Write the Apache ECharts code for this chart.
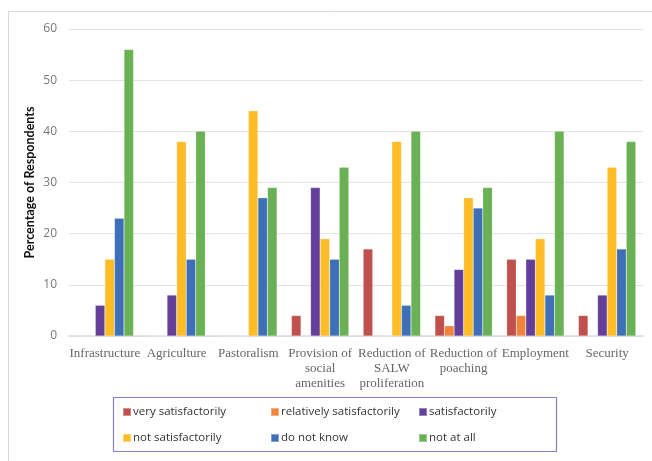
<!DOCTYPE html>
<html>
<head>
<meta charset="utf-8">
<script src="https://cdn.jsdelivr.net/npm/echarts@6/dist/echarts.min.js"></script>
<style>html,body{margin:0;padding:0;background:#fff;}#c{width:652px;height:461px;}</style>
</head>
<body>
<div id="c"></div>
<script>
var categories = ['Infrastructure', 'Agriculture', 'Pastoralism', 'Provision of\nsocial\namenities', 'Reduction of\nSALW\nproliferation', 'Reduction of\npoaching', 'Employment', 'Security'];
var seriesNames = ['very satisfactorily', 'relatively satisfactorily', 'satisfactorily', 'not satisfactorily', 'do not know', 'not at all'];
var verySatisfactorily = [0, 0, 0, 4, 17, 4, 15, 4];
var relativelySatisfactorily = [0, 0, 0, 0, 0, 2, 4, 0];
var satisfactorily = [6, 8, 0, 29, 0, 13, 15, 8];
var notSatisfactorily = [15, 38, 44, 19, 38, 27, 19, 33];
var doNotKnow = [23, 15, 27, 15, 6, 25, 8, 17];
var notAtAll = [56, 40, 29, 33, 40, 29, 40, 38];
var yTicks = [0, 10, 20, 30, 40, 50, 60];

var values = [verySatisfactorily, relativelySatisfactorily, satisfactorily, notSatisfactorily, doNotKnow, notAtAll];
var colors = ['#C0504D', '#F0843C', '#643F9A', '#FEBD27', '#3E70B8', '#6AB155'];

var chart = echarts.init(document.getElementById('c'), null, {renderer: 'canvas'});
var series = seriesNames.map(function (n, i) {
  return {
    name: n,
    type: 'bar',
    data: values[i],
    barGap: '0%',
    barCategoryGap: '20%',
    itemStyle: {color: colors[i], borderColor: 'rgba(255,255,255,0.35)', borderWidth: 0.5},
    emphasis: {disabled: true}
  };
});
function legend(names, left) {
  return {
    data: names,
    orient: 'vertical',
    left: left,
    top: 406,
    padding: 0,
    itemGap: 14,
    itemWidth: 8,
    itemHeight: 8,
    icon: 'rect',
    textStyle: {fontFamily: 'Open Sans', fontSize: 11.5, color: '#333', padding: [0, 0, 0, -3]},
    selectedMode: false
  };
}
chart.setOption({
  animation: false,
  backgroundColor: '#fff',
  color: colors,
  graphic: [
    {type: 'rect', shape: {x: 8.5, y: 11.5, width: 700, height: 500}, style: {fill: 'none', stroke: '#d9d9d9', lineWidth: 1}, z: -1},
    {type: 'rect', shape: {x: 113.5, y: 397.5, width: 443, height: 54}, style: {fill: 'none', stroke: '#8E7CC3', lineWidth: 1.2}}
  ],
  legend: [
    legend([seriesNames[0], seriesNames[3]], 122),
    legend([seriesNames[1], seriesNames[4]], 270),
    legend([seriesNames[2], seriesNames[5]], 418)
  ],
  grid: {left: 69, right: 9, top: 29, bottom: 125, containLabel: false},
  xAxis: {
    type: 'category',
    data: categories,
    axisLine: {lineStyle: {color: '#d9d9d9', width: 1.5}},
    axisTick: {show: false},
    axisLabel: {interval: 0, fontFamily: 'Liberation Serif', fontSize: 13, color: '#666', lineHeight: 15, margin: 10}
  },
  yAxis: {
    type: 'value',
    min: 0,
    max: 60,
    interval: 10,
    name: 'Percentage of Respondents',
    nameLocation: 'middle',
    nameGap: 33,
    nameMoveOverlap: false,
    nameTextStyle: {fontFamily: 'Lato', fontWeight: 'bold', fontSize: 12.5, color: '#111'},
    axisLine: {show: false},
    axisTick: {show: false},
    axisLabel: {fontFamily: 'Open Sans', fontSize: 12, color: '#777', margin: 12},
    splitLine: {lineStyle: {color: '#e3e3e3', width: 1}}
  },
  series: series
});
</script>
</body>
</html>
